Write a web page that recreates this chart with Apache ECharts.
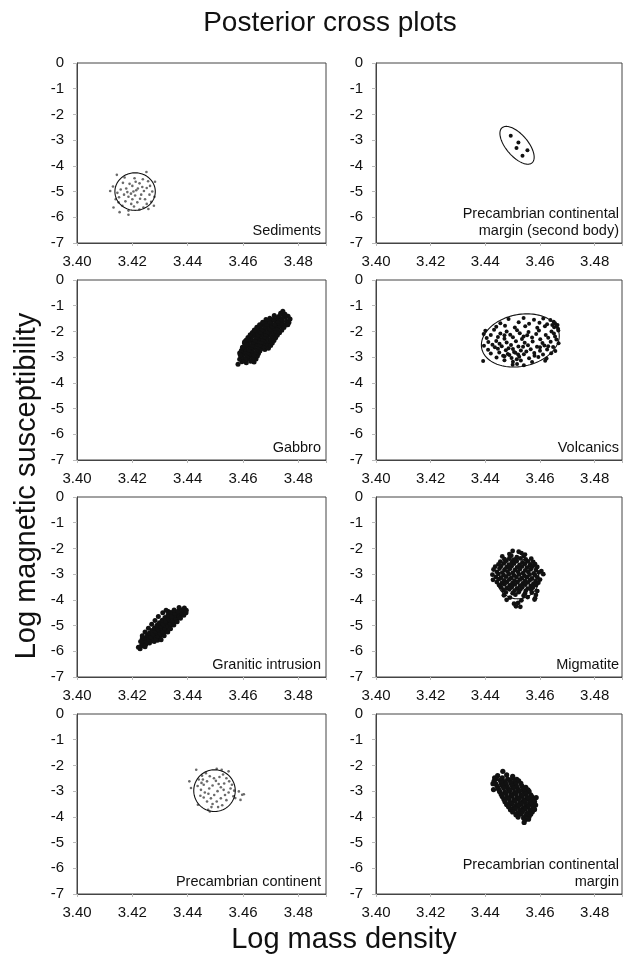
<!DOCTYPE html>
<html>
<head>
<meta charset="utf-8">
<title>Posterior cross plots</title>
<script src="https://cdn.jsdelivr.net/npm/echarts@6/dist/echarts.min.js"></script>
<style>
  html, body { margin: 0; padding: 0; background: #fff; }
  #chart { width: 625px; height: 955px; }
</style>
</head>
<body>
<div id="chart"></div>
<script>
// Axis tick labels
const xTickLabels = ['3.40', '3.42', '3.44', '3.46', '3.48'];
const yTickLabels = ['0', '-1', '-2', '-3', '-4', '-5', '-6', '-7'];

// Panel names, row by row (left, right)
const panelNames = [
  'Sediments',
  'Precambrian continental\nmargin (second body)',
  'Gabbro',
  'Volcanics',
  'Granitic intrusion',
  'Migmatite',
  'Precambrian continent',
  'Precambrian continental\nmargin'
];

// Posterior samples: [log mass density, log magnetic susceptibility]
const sedimentsPoints = [
  [3.4144,-4.35],[3.4251,-4.24],[3.4257,-4.60],[3.4238,-4.52],[3.4226,-4.68],[3.4212,-4.62],
  [3.4200,-4.78],[3.4190,-4.70],[3.4178,-4.88],[3.4166,-4.66],[3.4158,-4.92],[3.4120,-4.98],
  [3.4146,-5.05],[3.4152,-5.22],[3.4140,-5.30],[3.4150,-5.42],[3.4164,-5.55],[3.4175,-5.38],
  [3.4186,-5.20],[3.4195,-5.08],[3.4204,-5.00],[3.4214,-4.95],[3.4210,-5.15],[3.4200,-5.30],
  [3.4196,-5.48],[3.4206,-5.58],[3.4218,-5.42],[3.4228,-5.28],[3.4232,-5.12],[3.4242,-4.98],
  [3.4252,-4.86],[3.4264,-4.78],[3.4272,-5.00],[3.4262,-5.12],[3.4280,-5.20],[3.4278,-5.55],
  [3.4268,-5.40],[3.4252,-5.48],[3.4240,-5.62],[3.4226,-5.70],[3.4186,-5.74],[3.4154,-5.80],
  [3.4186,-5.90],[3.4132,-5.62],[3.4130,-4.80],[3.4282,-4.62],[3.4220,-4.88],[3.4236,-4.82],
  [3.4182,-5.02],[3.4170,-5.12],[3.4246,-5.30],[3.4258,-5.68],[3.4208,-4.48],[3.4172,-4.45]
];
const secondBodyPoints = [
  [3.4493,-2.83],[3.4521,-3.09],[3.4514,-3.31],[3.4554,-3.39],[3.4536,-3.61]
];
const gabbroPoints = [
  [3.4596,-3.18],[3.4612,-3.22],[3.4628,-3.16],[3.4640,-3.19],
  [3.4588,-3.08],[3.4604,-3.12],[3.4619,-3.06],[3.4633,-3.11],[3.4647,-3.07],
  [3.4597,-2.98],[3.4611,-3.03],[3.4624,-2.97],[3.4637,-3.01],[3.4652,-2.96],
  [3.4601,-2.88],[3.4615,-2.93],[3.4628,-2.87],[3.4641,-2.92],[3.4656,-2.86],
  [3.4606,-2.79],[3.4620,-2.83],[3.4633,-2.77],[3.4647,-2.81],[3.4661,-2.76],
  [3.4609,-2.68],[3.4623,-2.72],[3.4638,-2.66],[3.4652,-2.71],[3.4665,-2.67],[3.4679,-2.70],
  [3.4614,-2.58],[3.4629,-2.62],[3.4643,-2.57],[3.4657,-2.61],[3.4671,-2.56],[3.4685,-2.60],
  [3.4619,-2.49],[3.4633,-2.53],[3.4648,-2.47],[3.4661,-2.52],[3.4676,-2.46],[3.4690,-2.50],
  [3.4625,-2.38],[3.4639,-2.42],[3.4653,-2.37],[3.4667,-2.41],[3.4681,-2.36],[3.4695,-2.40],
  [3.4629,-2.29],[3.4644,-2.33],[3.4658,-2.27],[3.4672,-2.31],[3.4687,-2.26],[3.4701,-2.30],
  [3.4635,-2.18],[3.4649,-2.22],[3.4663,-2.17],[3.4677,-2.21],[3.4691,-2.16],[3.4706,-2.20],
  [3.4641,-2.09],[3.4655,-2.13],[3.4669,-2.07],[3.4683,-2.12],[3.4697,-2.06],[3.4712,-2.10],
  [3.4649,-1.98],[3.4663,-2.02],[3.4677,-1.97],[3.4691,-2.01],[3.4705,-1.96],[3.4719,-2.00],
  [3.4656,-1.89],[3.4670,-1.93],[3.4684,-1.87],[3.4698,-1.92],[3.4712,-1.86],[3.4726,-1.90],
  [3.4664,-1.78],[3.4678,-1.82],[3.4692,-1.77],[3.4706,-1.81],[3.4720,-1.76],[3.4734,-1.80],
  [3.4673,-1.69],[3.4687,-1.73],[3.4701,-1.67],[3.4715,-1.72],[3.4729,-1.66],[3.4743,-1.70],
  [3.4685,-1.58],[3.4699,-1.62],[3.4713,-1.57],[3.4727,-1.61],[3.4741,-1.56],[3.4757,-1.60],
  [3.4697,-1.49],[3.4711,-1.53],[3.4725,-1.47],[3.4739,-1.51],[3.4753,-1.46],
  [3.4713,-1.38],[3.4729,-1.42],[3.4746,-1.37],[3.4763,-1.41],
  [3.4736,-1.29],[3.4752,-1.33],
  [3.4588,-2.84],[3.4594,-2.74],[3.4599,-2.63],[3.4605,-2.45],[3.4611,-2.34],[3.4618,-2.24],
  [3.4626,-2.13],[3.4634,-2.04],[3.4641,-1.94],[3.4650,-1.84],[3.4660,-1.74],[3.4671,-1.64],
  [3.4683,-1.54],
  [3.4692,-2.65],[3.4700,-2.55],[3.4706,-2.45],[3.4712,-2.35],[3.4718,-2.25],[3.4724,-2.15],
  [3.4732,-2.05],[3.4740,-1.95],[3.4748,-1.85],[3.4755,-1.75],[3.4766,-1.65],
  [3.4582,-3.28],[3.4590,-2.92],[3.4598,-2.62],[3.4606,-2.40],[3.4744,-1.22],[3.4762,-1.74],
  [3.4770,-1.52],[3.4612,-2.52],[3.4618,-2.30]
];
const volcanicsPoints = [
  [3.4485,-1.52],[3.4540,-1.48],[3.4578,-1.55],[3.4612,-1.50],[3.4638,-1.56],[3.4650,-1.62],
  [3.4455,-1.68],[3.4522,-1.64],[3.4560,-1.70],[3.4598,-1.66],[3.4626,-1.72],[3.4655,-1.68],[3.4664,-1.75],
  [3.4440,-1.82],[3.4472,-1.78],[3.4508,-1.85],[3.4546,-1.80],[3.4590,-1.86],[3.4618,-1.80],[3.4652,-1.84],[3.4666,-1.90],
  [3.4400,-1.97],[3.4432,-1.93],[3.4478,-2.00],[3.4516,-1.95],[3.4558,-2.02],[3.4596,-1.96],[3.4642,-2.00],[3.4667,-1.96],
  [3.4394,-2.10],[3.4420,-2.14],[3.4455,-2.08],[3.4491,-2.13],[3.4526,-2.07],[3.4553,-2.15],[3.4586,-2.10],[3.4621,-2.14],[3.4651,-2.08],
  [3.4405,-2.26],[3.4446,-2.22],[3.4470,-2.28],[3.4501,-2.23],[3.4534,-2.29],[3.4571,-2.24],[3.4601,-2.30],[3.4630,-2.25],[3.4660,-2.31],
  [3.4411,-2.41],[3.4440,-2.37],[3.4478,-2.43],[3.4512,-2.38],[3.4544,-2.44],[3.4573,-2.39],[3.4609,-2.45],[3.4639,-2.40],[3.4668,-2.46],
  [3.4395,-2.56],[3.4426,-2.52],[3.4460,-2.58],[3.4494,-2.53],[3.4521,-2.59],[3.4556,-2.54],[3.4589,-2.60],[3.4616,-2.55],[3.4648,-2.61],
  [3.4410,-2.71],[3.4446,-2.67],[3.4475,-2.73],[3.4501,-2.68],[3.4530,-2.74],[3.4566,-2.69],[3.4600,-2.75],[3.4626,-2.70],[3.4656,-2.76],
  [3.4420,-2.86],[3.4451,-2.82],[3.4482,-2.88],[3.4510,-2.83],[3.4541,-2.89],[3.4579,-2.84],[3.4611,-2.90],[3.4641,-2.85],
  [3.4441,-3.01],[3.4470,-2.97],[3.4496,-3.03],[3.4524,-2.98],[3.4560,-3.04],[3.4594,-2.99],[3.4624,-3.05],
  [3.4392,-3.15],[3.4470,-3.12],[3.4501,-3.18],[3.4530,-3.13],[3.4571,-3.19],[3.4619,-3.14],
  [3.4500,-3.30],[3.4516,-3.27],[3.4541,-3.32],
  [3.4485,-2.65],[3.4505,-2.80],[3.4465,-2.95],[3.4538,-2.60],[3.4452,-2.48],[3.4630,-2.58],
  [3.4645,-1.75],[3.4660,-1.80],[3.4520,-2.90],[3.4488,-2.92],[3.4550,-2.78],[3.4515,-3.08],
  [3.4580,-2.95],[3.4600,-2.62],[3.4435,-2.62],[3.4470,-2.15],[3.4540,-2.20],[3.4655,-2.20]
];
const graniticPoints = [
  [3.4228,-5.90],[3.4222,-5.84],
  [3.4232,-5.79],[3.4246,-5.82],
  [3.4236,-5.69],[3.4249,-5.73],[3.4262,-5.68],
  [3.4240,-5.59],[3.4253,-5.63],[3.4266,-5.58],[3.4279,-5.62],[3.4291,-5.57],
  [3.4246,-5.49],[3.4259,-5.53],[3.4272,-5.48],[3.4285,-5.52],[3.4298,-5.47],
  [3.4254,-5.39],[3.4267,-5.43],[3.4280,-5.38],[3.4293,-5.42],[3.4306,-5.37],
  [3.4262,-5.29],[3.4275,-5.33],[3.4288,-5.28],[3.4301,-5.32],[3.4314,-5.27],
  [3.4271,-5.19],[3.4284,-5.23],[3.4297,-5.18],[3.4310,-5.22],[3.4323,-5.17],
  [3.4280,-5.09],[3.4293,-5.13],[3.4306,-5.08],[3.4319,-5.12],[3.4332,-5.07],
  [3.4289,-4.99],[3.4302,-5.03],[3.4315,-4.98],[3.4328,-5.02],[3.4341,-4.97],
  [3.4298,-4.89],[3.4311,-4.93],[3.4324,-4.88],[3.4337,-4.92],[3.4350,-4.87],
  [3.4308,-4.79],[3.4321,-4.83],[3.4334,-4.78],[3.4347,-4.82],[3.4360,-4.77],
  [3.4318,-4.69],[3.4331,-4.73],[3.4344,-4.68],[3.4357,-4.72],[3.4370,-4.67],
  [3.4329,-4.59],[3.4342,-4.63],[3.4356,-4.58],[3.4369,-4.62],[3.4380,-4.57],
  [3.4340,-4.49],[3.4354,-4.53],[3.4368,-4.48],[3.4381,-4.52],
  [3.4351,-4.39],[3.4366,-4.43],[3.4381,-4.38],
  [3.4369,-4.30],[3.4388,-4.32],[3.4395,-4.40],[3.4330,-4.45],[3.4236,-5.50],
  [3.4230,-5.62],[3.4236,-5.40],[3.4246,-5.25],[3.4258,-5.10],[3.4270,-4.95],[3.4282,-4.80],
  [3.4294,-4.65],[3.4310,-4.50],[3.4322,-4.40],
  [3.4304,-5.55],[3.4315,-5.40],[3.4328,-5.25],[3.4338,-5.12],[3.4350,-4.98],[3.4362,-4.85],
  [3.4374,-4.72],[3.4386,-4.60],[3.4394,-4.50]
];
const migmatitePoints = [
  [3.4500,-2.10],[3.4522,-2.13],
  [3.4488,-2.22],[3.4532,-2.18],[3.4545,-2.24],
  [3.4462,-2.31],[3.4495,-2.28],[3.4515,-2.34],[3.4540,-2.29],
  [3.4470,-2.42],[3.4488,-2.38],[3.4505,-2.44],[3.4528,-2.39],[3.4548,-2.43],[3.4568,-2.40],
  [3.4455,-2.51],[3.4476,-2.48],[3.4497,-2.53],[3.4515,-2.49],[3.4536,-2.54],[3.4556,-2.50],[3.4575,-2.52],
  [3.4448,-2.62],[3.4468,-2.58],[3.4486,-2.63],[3.4505,-2.59],[3.4525,-2.64],[3.4545,-2.60],[3.4563,-2.65],[3.4582,-2.61],
  [3.4436,-2.71],[3.4458,-2.68],[3.4478,-2.73],[3.4496,-2.69],[3.4516,-2.74],[3.4534,-2.70],[3.4552,-2.75],[3.4572,-2.71],[3.4590,-2.72],
  [3.4430,-2.82],[3.4452,-2.78],[3.4470,-2.83],[3.4490,-2.79],[3.4508,-2.84],[3.4527,-2.80],[3.4546,-2.85],[3.4566,-2.81],[3.4585,-2.84],[3.4605,-2.88],
  [3.4442,-2.91],[3.4462,-2.94],[3.4481,-2.90],[3.4500,-2.95],[3.4519,-2.91],[3.4538,-2.96],[3.4557,-2.92],[3.4577,-2.97],[3.4596,-2.93],
  [3.4426,-3.02],[3.4448,-2.99],[3.4467,-3.04],[3.4486,-3.00],[3.4505,-3.05],[3.4524,-3.01],[3.4543,-3.06],[3.4562,-3.02],[3.4582,-3.04],[3.4612,-3.00],
  [3.4438,-3.11],[3.4457,-3.14],[3.4476,-3.10],[3.4495,-3.15],[3.4514,-3.11],[3.4533,-3.16],[3.4552,-3.12],[3.4571,-3.17],[3.4590,-3.13],
  [3.4428,-3.22],[3.4450,-3.19],[3.4469,-3.24],[3.4488,-3.20],[3.4507,-3.25],[3.4526,-3.21],[3.4545,-3.26],[3.4564,-3.22],[3.4584,-3.27],[3.4600,-3.21],
  [3.4442,-3.31],[3.4461,-3.34],[3.4480,-3.30],[3.4499,-3.35],[3.4518,-3.31],[3.4537,-3.36],[3.4556,-3.32],[3.4576,-3.37],[3.4594,-3.33],
  [3.4450,-3.42],[3.4470,-3.39],[3.4489,-3.44],[3.4508,-3.40],[3.4527,-3.45],[3.4546,-3.41],[3.4566,-3.46],[3.4585,-3.42],
  [3.4458,-3.51],[3.4478,-3.54],[3.4497,-3.50],[3.4516,-3.55],[3.4535,-3.51],[3.4555,-3.56],[3.4574,-3.52],
  [3.4466,-3.62],[3.4488,-3.59],[3.4507,-3.64],[3.4528,-3.60],[3.4548,-3.65],[3.4568,-3.61],[3.4590,-3.66],
  [3.4475,-3.71],[3.4500,-3.74],[3.4522,-3.70],[3.4545,-3.75],[3.4570,-3.72],
  [3.4468,-3.82],[3.4510,-3.80],[3.4540,-3.84],[3.4585,-3.81],
  [3.4490,-3.91],[3.4555,-3.89],[3.4582,-3.94],
  [3.4478,-4.00],[3.4532,-4.02],[3.4580,-3.99],
  [3.4505,-4.15],[3.4520,-4.12],
  [3.4512,-4.25],[3.4528,-4.27]
];
const continentPoints = [
  [3.4406,-2.62],[3.4412,-2.88],[3.4431,-2.17],[3.4437,-3.53],[3.4474,-3.73],[3.4480,-3.79],
  [3.4585,-3.01],[3.4597,-3.14],[3.4603,-3.12],[3.4591,-3.34],[3.4572,-3.27],[3.4548,-2.23],
  [3.4523,-2.17],[3.4505,-2.13],
  [3.4440,-2.55],[3.4452,-2.40],[3.4466,-2.30],[3.4480,-2.42],[3.4470,-2.62],[3.4458,-2.75],
  [3.4448,-2.95],[3.4462,-3.05],[3.4478,-2.90],[3.4490,-2.78],[3.4502,-2.60],[3.4515,-2.45],
  [3.4528,-2.35],[3.4540,-2.50],[3.4532,-2.70],[3.4520,-2.85],[3.4508,-3.00],[3.4496,-3.15],
  [3.4484,-3.28],[3.4470,-3.40],[3.4458,-3.25],[3.4446,-3.18],[3.4490,-3.50],[3.4505,-3.40],
  [3.4520,-3.28],[3.4535,-3.15],[3.4548,-3.05],[3.4555,-2.90],[3.4560,-2.75],[3.4550,-2.62],
  [3.4565,-3.20],[3.4540,-3.35],[3.4525,-3.55],[3.4510,-3.62],[3.4495,-2.50],[3.4455,-2.55],
  [3.4475,-3.10],[3.4530,-2.95],[3.4512,-2.72],[3.4486,-3.62],[3.4568,-2.98],[3.4450,-2.68],
  [3.4436,-2.80]
];
const marginPoints = [
  [3.4464,-2.23],[3.4434,-2.48],[3.4428,-2.71],[3.4430,-2.94],
  [3.4445,-2.40],[3.4478,-2.37],[3.4500,-2.42],
  [3.4440,-2.52],[3.4462,-2.48],[3.4482,-2.53],[3.4500,-2.49],[3.4515,-2.54],
  [3.4432,-2.61],[3.4455,-2.58],[3.4472,-2.63],[3.4490,-2.59],[3.4507,-2.64],[3.4522,-2.60],
  [3.4438,-2.72],[3.4458,-2.68],[3.4476,-2.73],[3.4494,-2.69],[3.4512,-2.74],[3.4530,-2.70],
  [3.4444,-2.81],[3.4462,-2.78],[3.4480,-2.83],[3.4498,-2.79],[3.4516,-2.84],[3.4534,-2.80],[3.4548,-2.85],
  [3.4448,-2.92],[3.4467,-2.88],[3.4485,-2.93],[3.4503,-2.89],[3.4521,-2.94],[3.4539,-2.90],[3.4556,-2.95],
  [3.4452,-3.01],[3.4471,-3.04],[3.4489,-2.99],[3.4507,-3.05],[3.4525,-3.00],[3.4543,-3.04],[3.4560,-3.01],
  [3.4458,-3.12],[3.4476,-3.09],[3.4494,-3.14],[3.4512,-3.10],[3.4530,-3.15],[3.4548,-3.11],[3.4566,-3.14],
  [3.4462,-3.21],[3.4480,-3.24],[3.4498,-3.19],[3.4516,-3.25],[3.4534,-3.20],[3.4552,-3.24],[3.4570,-3.21],[3.4586,-3.25],
  [3.4468,-3.32],[3.4486,-3.29],[3.4504,-3.34],[3.4522,-3.30],[3.4540,-3.35],[3.4558,-3.31],[3.4576,-3.33],
  [3.4472,-3.41],[3.4490,-3.44],[3.4508,-3.39],[3.4526,-3.45],[3.4544,-3.40],[3.4562,-3.44],[3.4580,-3.41],
  [3.4478,-3.52],[3.4496,-3.49],[3.4514,-3.54],[3.4532,-3.50],[3.4550,-3.55],[3.4568,-3.51],[3.4584,-3.54],
  [3.4485,-3.61],[3.4503,-3.64],[3.4521,-3.59],[3.4539,-3.65],[3.4557,-3.60],[3.4575,-3.63],
  [3.4492,-3.72],[3.4510,-3.69],[3.4528,-3.74],[3.4546,-3.70],[3.4564,-3.75],[3.4580,-3.71],
  [3.4500,-3.81],[3.4518,-3.84],[3.4536,-3.79],[3.4554,-3.85],[3.4572,-3.80],
  [3.4512,-3.92],[3.4530,-3.89],[3.4548,-3.94],[3.4566,-3.90],
  [3.4520,-4.01],[3.4540,-4.04],[3.4560,-4.00],
  [3.4545,-4.11],[3.4558,-4.09],
  [3.4542,-4.22]
];
const panelPoints = [
  sedimentsPoints, secondBodyPoints, gabbroPoints, volcanicsPoints,
  graniticPoints, migmatitePoints, continentPoints, marginPoints
];

// Confidence ellipses: [centre x, centre y, axis-1 dx, axis-1 dy, axis-2 dx, axis-2 dy]
const sedimentsEllipse = [3.4210, -5.00, 0.0073, 0, 0, 0.73];
const secondBodyEllipse = [3.4516, -3.20, 0.0055, -0.68, 0.0030, 0.28];
const volcanicsEllipse = [3.4528, -2.35, 0.0141, 0.32, 0.0020, -0.985];
const migmatiteEllipse = [3.4519, -3.18, 0.0077, 0, 0, 0.78];
const continentEllipse = [3.4497, -2.98, 0.0075, 0, 0, 0.81];
const panelEllipses = [
  sedimentsEllipse, secondBodyEllipse, null, volcanicsEllipse,
  null, migmatiteEllipse, continentEllipse, null
];

// ---- layout and styling ----
const FONT = '"Liberation Sans", Arial, Helvetica, sans-serif';
const colLeft = [77, 376];
const colWidth = [249, 248];
const rowTop = [63, 280, 497, 714];
const boxH = 180;
const markerStyle = [
  { size: 2.6, color: '#6a6a6a' },
  { size: 4, color: '#111' },
  { size: 5, color: '#111' },
  { size: 4, color: '#111' },
  { size: 5, color: '#111' },
  { size: 4.8, color: '#111' },
  { size: 2.6, color: '#6a6a6a' },
  { size: 5.2, color: '#111' }
];

function renderEllipse(params, api) {
  const cx = api.value(0), cy = api.value(1);
  const ax = api.value(2), ay = api.value(3);
  const bx = api.value(4), by = api.value(5);
  const pts = [];
  const n = 120;
  for (let k = 0; k < n; k++) {
    const t = (k / n) * Math.PI * 2;
    const c = Math.cos(t), s = Math.sin(t);
    pts.push(api.coord([cx + ax * c + bx * s, cy + ay * c + by * s]));
  }
  return {
    type: 'polygon',
    shape: { points: pts },
    style: { fill: 'none', stroke: '#111', lineWidth: 1.1 }
  };
}

const grids = [], xAxes = [], yAxes = [], series = [], graphics = [];

panelNames.forEach((name, i) => {
  const col = i % 2, row = Math.floor(i / 2);
  const left = colLeft[col], top = rowTop[row], width = colWidth[col];
  grids.push({
    left: left, top: top, width: width, height: boxH,
    show: true, borderColor: '#444', borderWidth: 1, backgroundColor: 'transparent'
  });
  xAxes.push({
    gridIndex: i, type: 'value', min: 3.40, max: 3.49, interval: 0.02,
    axisLine: { show: true, onZero: false, lineStyle: { color: '#444', width: 1 } },
    axisTick: { show: true, length: 3, lineStyle: { color: '#bbb' } },
    splitLine: { show: false },
    axisLabel: {
      margin: 11, fontSize: 15, fontFamily: FONT, color: '#111',
      formatter: v => { const s = v.toFixed(2); return xTickLabels.includes(s) ? s : ''; }
    }
  });
  yAxes.push({
    gridIndex: i, type: 'value', min: -7, max: 0, interval: 1,
    axisLine: { show: true, onZero: false, lineStyle: { color: '#444', width: 1 } },
    axisTick: { show: true, length: 4, lineStyle: { color: '#bbb' } },
    splitLine: { show: false },
    axisLabel: {
      margin: 13, fontSize: 15, fontFamily: FONT, color: '#111',
      formatter: v => { const s = String(Math.round(v)); return yTickLabels.includes(s) ? s : ''; }
    }
  });
  series.push({
    type: 'scatter', xAxisIndex: i, yAxisIndex: i,
    data: panelPoints[i],
    symbol: 'circle', symbolSize: markerStyle[i].size,
    itemStyle: { color: markerStyle[i].color, opacity: 1, borderWidth: 0 },
    silent: true, z: 2
  });
  if (panelEllipses[i]) {
    series.push({
      type: 'custom', xAxisIndex: i, yAxisIndex: i,
      data: [panelEllipses[i]],
      encode: { x: 0, y: 1 },
      renderItem: renderEllipse,
      silent: true, z: 3
    });
  }
  graphics.push({
    type: 'text',
    x: left + width - 5, y: top + boxH - 4,
    style: {
      text: name, font: '14.5px ' + FONT, fill: '#111',
      align: 'right', verticalAlign: 'bottom', lineHeight: 17
    }
  });
});

graphics.push({
  type: 'text', x: 330, y: 23,
  style: { text: 'Posterior cross plots', font: '28px ' + FONT, fill: '#111', align: 'center', verticalAlign: 'middle' }
});
graphics.push({
  type: 'text', x: 344, y: 940,
  style: { text: 'Log mass density', font: '29px ' + FONT, fill: '#111', align: 'center', verticalAlign: 'middle' }
});
graphics.push({
  type: 'text', x: 27, y: 486, rotation: Math.PI / 2,
  style: { text: 'Log magnetic susceptibility', font: '29px ' + FONT, fill: '#111', align: 'center', verticalAlign: 'middle' }
});

const chart = echarts.init(document.getElementById('chart'), null, { renderer: 'canvas' });
chart.setOption({
  animation: false,
  backgroundColor: '#fff',
  grid: grids,
  xAxis: xAxes,
  yAxis: yAxes,
  series: series,
  graphic: graphics
});
</script>
</body>
</html>
